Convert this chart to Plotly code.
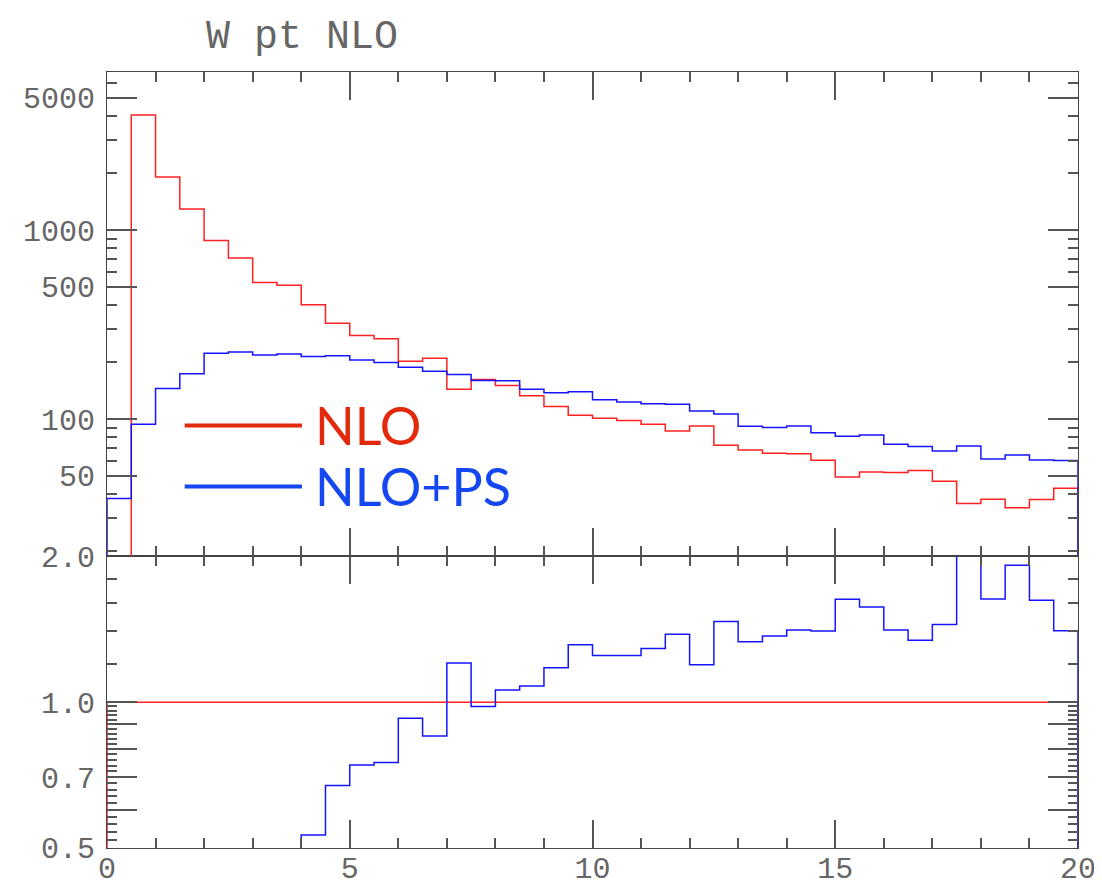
import plotly.graph_objects as go

# ---- data ----
bin_left = [0.0, 0.5, 1.0, 1.5, 2.0, 2.5, 3.0, 3.5, 4.0, 4.5,
            5.0, 5.5, 6.0, 6.5, 7.0, 7.5, 8.0, 8.5, 9.0, 9.5,
            10.0, 10.5, 11.0, 11.5, 12.0, 12.5, 13.0, 13.5, 14.0, 14.5,
            15.0, 15.5, 16.0, 16.5, 17.0, 17.5, 18.0, 18.5, 19.0, 19.5]
x_end = 20.0

nlo = [0, 4064, 1905, 1291, 881, 712, 528, 510, 402, 321,
       277, 266, 202, 210, 143.6, 162, 150.6, 133, 116.6, 104.6,
       100.9, 98.4, 93.8, 86.4, 91.8, 72.6, 68.6, 65.9, 65.6, 60.5,
       49.4, 52.5, 52.1, 53.4, 46.9, 35.8, 37.7, 33.9, 37.5, 43.0]

nlo_ps = [38, 93.8, 145, 173.7, 223, 226, 218, 221, 214, 216,
          205, 199, 188, 179, 172, 160, 159.5, 143.6, 137.9, 139.6,
          126.6, 123, 120.6, 119.6, 110.2, 106.3, 91.5, 90.1, 91.8, 84.7,
          81, 82.3, 73.5, 71.5, 67.8, 72, 61.5, 64.6, 60.8, 60.3]

ratio_nlo = [1.0, 1.0, 1.0, 1.0, 1.0, 1.0, 1.0, 1.0, 1.0, 1.0,
             1.0, 1.0, 1.0, 1.0, 1.0, 1.0, 1.0, 1.0, 1.0, 1.0,
             1.0, 1.0, 1.0, 1.0, 1.0, 1.0, 1.0, 1.0, 1.0, 1.0,
             1.0, 1.0, 1.0, 1.0, 1.0, 1.0, 1.0, 1.0, 1.0, 1.0]

ratio_ps = [0.02, 0.023, 0.076, 0.13, 0.25, 0.32, 0.41, 0.43, 0.532, 0.673,
            0.742, 0.751, 0.926, 0.852, 1.205, 0.98, 1.06, 1.08, 1.178, 1.314,
            1.249, 1.249, 1.291, 1.382, 1.195, 1.468, 1.333, 1.369, 1.409, 1.402,
            1.632, 1.573, 1.409, 1.343, 1.447, 2.05, 1.634, 1.917, 1.624, 1.404]

top_major = [50, 100, 500, 1000, 5000]
top_major_text = ["50", "100", "500", "1000", "5000"]
top_minor = [20, 30, 40, 60, 70, 80, 90, 200, 300, 400, 600, 700, 800, 900,
             2000, 3000, 4000, 6000]
low_major = [0.5, 0.6, 0.7, 0.8, 0.9, 1.0, 2.0]
low_major_text = ["0.5", "", "0.7", "", "", "1.0", "2.0"]
low_minor = [0.52, 0.54, 0.56, 0.58, 0.62, 0.64, 0.66, 0.68, 0.72, 0.74, 0.76, 0.78,
             0.82, 0.84, 0.86, 0.88, 0.92, 0.94, 0.96, 0.98, 1.2, 1.4, 1.6, 1.8]
x_major = [0, 5, 10, 15, 20]

series_names = ["NLO", "NLO+PS"]
line_colors = ["#ff2020", "#1414ff"]
text_colors = ["#e3290b", "#1446f2"]

FLOOR_TOP = 1.0
FLOOR_LOW = 0.1


def step(vals, floor):
    xs = [bin_left[0]] + list(bin_left) + [x_end, x_end]
    v = [max(a, floor) for a in vals]
    ys = [floor] + v + [v[-1], floor]
    return xs, ys


fig = go.Figure()
for vals, col, nm in [(nlo, line_colors[0], series_names[0]), (nlo_ps, line_colors[1], series_names[1])]:
    xs, ys = step(vals, FLOOR_TOP)
    fig.add_trace(go.Scatter(x=xs, y=ys, mode="lines", line=dict(color=col, width=1.5, shape="hv"),
                             xaxis="x2", yaxis="y2", name=nm, showlegend=False))
for vals, col, nm in [(ratio_nlo, line_colors[0], series_names[0]), (ratio_ps, line_colors[1], series_names[1])]:
    xs, ys = step(vals, FLOOR_LOW)
    fig.add_trace(go.Scatter(x=xs, y=ys, mode="lines", line=dict(color=col, width=1.5, shape="hv"),
                             xaxis="x", yaxis="y", name=nm, showlegend=False))

tick_font = dict(family="Liberation Mono", size=30, color="#666666")
frame = "#444444"
tcol = "#555555"
split = 0.3758

W, H = 1094, 880  # page body has an 8px offset

common_x = dict(range=[0, 20], showline=True, linecolor=frame, linewidth=1.2, mirror="allticks",
                ticks="inside", tickvals=x_major, ticklen=28, tickwidth=1.5, tickcolor=tcol,
                minor=dict(dtick=1, ticks="inside", ticklen=10, tickwidth=1.5, tickcolor=tcol),
                showgrid=False, zeroline=False, automargin=False)

fig.update_layout(
    width=W, height=H,
    margin=dict(l=99, r=24, t=64, b=40, autoexpand=False),
    paper_bgcolor="white", plot_bgcolor="white",
    showlegend=False,
    xaxis=dict(**common_x, anchor="y", domain=[0, 1], tickfont=tick_font,
               ticktext=[str(v) for v in x_major], ticklabelstandoff=-7),
    xaxis2=dict(**common_x, anchor="y2", domain=[0, 1], matches="x", showticklabels=False),
    yaxis=dict(type="log", range=[-0.30103, 0.30103], domain=[0, split], anchor="x",
               showline=True, linecolor=frame, linewidth=1.2, mirror="allticks",
               ticks="inside", tickmode="array", tickvals=low_major, ticktext=low_major_text,
               ticklen=30, tickwidth=1.5, tickcolor=tcol, tickfont=tick_font, ticklabelstandoff=5,
               minor=dict(tickmode="array", tickvals=low_minor, ticks="inside", ticklen=10,
                          tickwidth=1.5, tickcolor=tcol),
               showgrid=False, zeroline=False, automargin=False),
    yaxis2=dict(type="log", range=[1.2735, 3.836], domain=[split, 1], anchor="x2",
                showline=True, linecolor=frame, linewidth=1.2, mirror="allticks",
                ticks="inside", tickmode="array", tickvals=top_major, ticktext=top_major_text,
                ticklen=30, tickwidth=1.5, tickcolor=tcol, tickfont=tick_font, ticklabelstandoff=5,
                minor=dict(tickmode="array", tickvals=top_minor, ticks="inside", ticklen=10,
                           tickwidth=1.5, tickcolor=tcol),
                showgrid=False, zeroline=False, automargin=False),
    title=dict(text="W pt NLO", x=198 / W, xanchor="left", xref="container",
               y=1 - 26 / H, yanchor="middle", yref="container", automargin=False,
               font=dict(family="Liberation Mono", size=40, color="#666666")),
)

# legend drawn inside the top panel
legend_y = [0.5446, 0.466]
for i in range(2):
    fig.add_shape(type="line", xref="paper", yref="paper", x0=0.080, x1=0.2008,
                  y0=legend_y[i], y1=legend_y[i], line=dict(color=text_colors[i], width=4))
    fig.add_annotation(text=series_names[i], xref="paper", yref="paper", x=0.212, y=legend_y[i],
                       xanchor="left", yanchor="middle", showarrow=False,
                       font=dict(family="Lato", size=52, color=text_colors[i]))

fig.write_html("out.html")
